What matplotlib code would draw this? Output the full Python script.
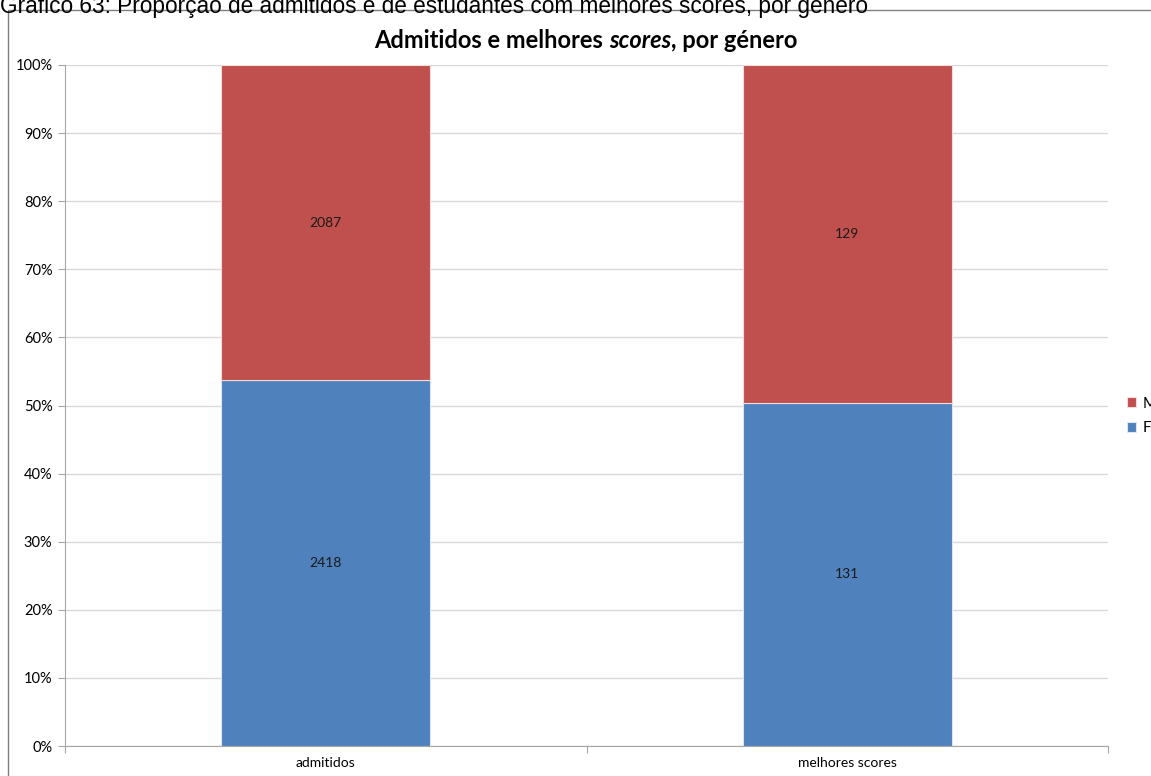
import matplotlib.pyplot as plt
from matplotlib.patches import Rectangle
from matplotlib.ticker import PercentFormatter

# dados
categorias = ['admitidos', 'melhores scores']
feminino = [2418, 131]
masculino = [2087, 129]

tot = [f + m for f, m in zip(feminino, masculino)]
pct_f = [f / t * 100 for f, t in zip(feminino, tot)]
pct_m = [m / t * 100 for m, t in zip(masculino, tot)]

cor_f = '#4F81BD'
cor_m = '#C0504D'
fonte = 'Lato'

fig = plt.figure(figsize=(11.51, 7.76), dpi=100)
ax = fig.add_axes([65 / 1151, 30 / 776, (1108 - 65) / 1151, (746 - 65) / 776])

x = range(len(categorias))
ax.bar(x, pct_f, width=0.4, color=cor_f, edgecolor='#dce6f2', linewidth=0.8, label='F', zorder=3)
ax.bar(x, pct_m, width=0.4, bottom=pct_f, color=cor_m, edgecolor='#f2dcdb', linewidth=0.8, label='M', zorder=3)

for i in x:
    ax.text(i, pct_f[i] / 2, str(feminino[i]), ha='center', va='center',
            fontsize=10, family=fonte, color='#1a1a1a', zorder=4)
    ax.text(i, pct_f[i] + pct_m[i] / 2, str(masculino[i]), ha='center', va='center',
            fontsize=10, family=fonte, color='#1a1a1a', zorder=4)

ax.set_xlim(-0.5, 1.5)
ax.set_ylim(0, 100)
ax.set_yticks(range(0, 101, 10))
ax.yaxis.set_major_formatter(PercentFormatter(decimals=0))
ax.set_xticks([-0.5, 0.5, 1.5])
ax.set_xticklabels([])
ax.set_xticks(list(x), minor=True)
ax.set_xticklabels(categorias, minor=True)
ax.tick_params(axis='x', which='major', length=5, color='#a6a6a6', direction='out')
ax.tick_params(axis='x', which='minor', length=0, pad=8, labelsize=10)
ax.tick_params(axis='y', length=5, color='#a6a6a6', labelsize=10.5, pad=4)
for lbl in ax.get_xticklabels(minor=True) + ax.get_yticklabels():
    lbl.set_family(fonte)

ax.grid(axis='y', color='#d9d9d9', linewidth=1, zorder=0)
for lado in ['top', 'right']:
    ax.spines[lado].set_visible(False)
ax.spines['left'].set_color('#a6a6a6')
ax.spines['bottom'].set_color('#a6a6a6')

# legenda (M em cima)
h, l = ax.get_legend_handles_labels()
ax.legend(h[::-1], l[::-1], loc='center left', bbox_to_anchor=(1127 / 1151, 1 - 416 / 776),
          bbox_transform=fig.transFigure, frameon=False, prop={'family': fonte, 'size': 11},
          handlelength=0.6, handleheight=0.6, handletextpad=0.4, labelspacing=0.7,
          borderpad=0, borderaxespad=0)

# moldura do gráfico
fig.patches.append(Rectangle((8 / 1151, -0.05), 1.2, (766 / 776) + 0.05, transform=fig.transFigure,
                             fill=False, edgecolor='#7f7f7f', linewidth=1))

# título com "scores" em itálico
fig.canvas.draw()
r = fig.canvas.get_renderer()
partes = [('Admitidos e melhores ', 'normal'), ('scores', 'italic'), (', por género', 'normal')]
objs = []
for txt, estilo in partes:
    objs.append(fig.text(0, 0, txt, fontsize=17, fontweight='bold', style=estilo, family=fonte,
                         va='baseline'))
larg = [o.get_window_extent(r).width for o in objs]
x0 = (586 - sum(larg) / 2)
y0 = 776 - 48
for o, w in zip(objs, larg):
    o.set_position((x0 / 1151, y0 / 776))
    x0 += w

# legenda do documento (cortada no topo)
fig.text(0, 1 - 13 / 776, 'Gráfico 63: Proporção de admitidos e de estudantes com melhores scores, por género',
         fontsize=16.3, family='Liberation Sans', va='baseline')

fig.savefig('out.png', dpi=100)
